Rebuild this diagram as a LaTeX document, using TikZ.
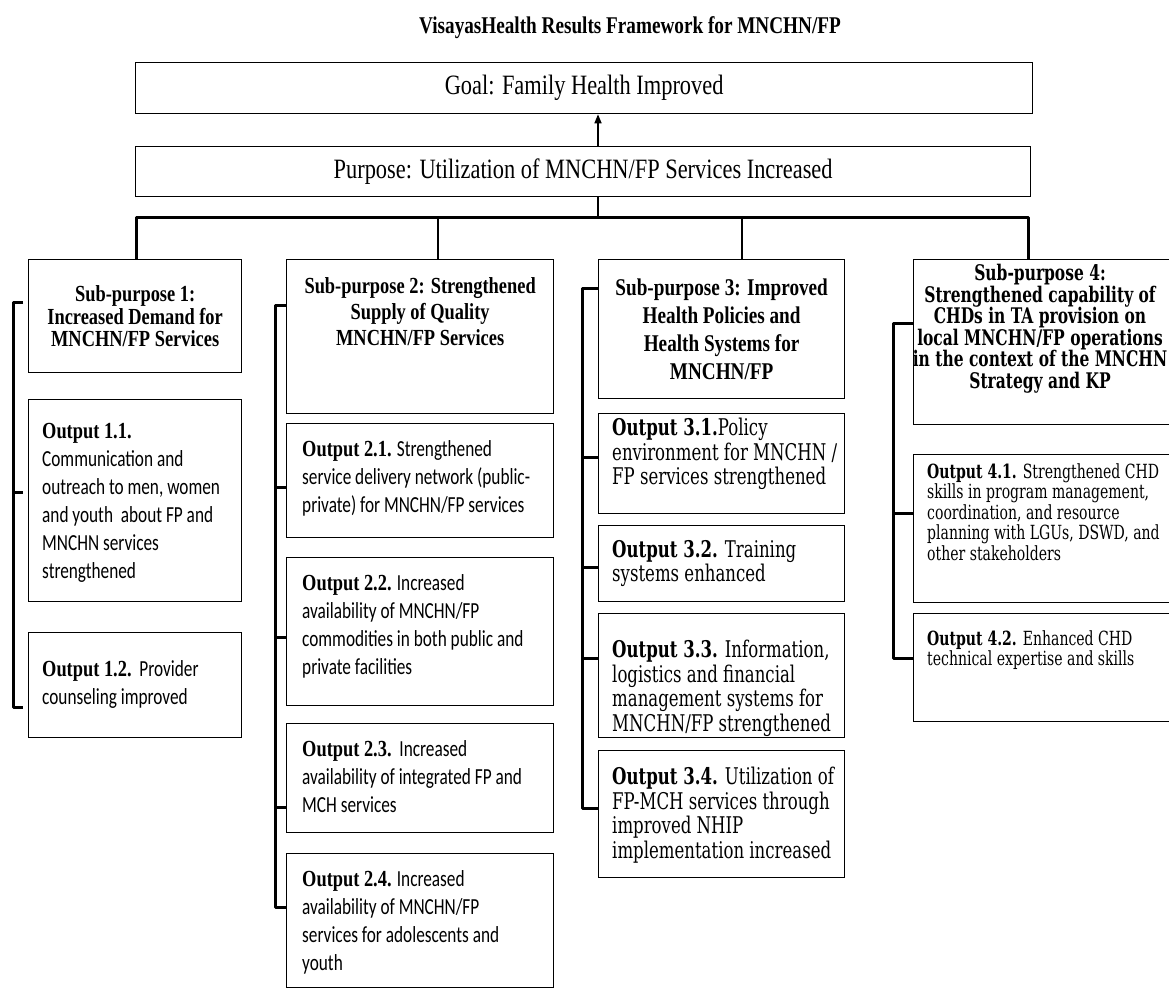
\documentclass[tikz,border=0pt]{standalone}
\usepackage{fontspec}
\setmainfont{Liberation Serif}
\newfontfamily\cnd[FakeStretch=0.8]{Liberation Serif}
\newfontfamily\csans[FakeStretch=0.75]{Carlito}
\newfontfamily\geo[FakeStretch=0.72]{DejaVu Serif}
\usetikzlibrary{arrows.meta,calc}
\tikzset{
  box/.style={draw, line width=1.3pt, inner sep=0pt, anchor=north west, align=center},
  txt/.style={inner sep=0pt, anchor=north west, align=left},
  ctxt/.style={inner sep=0pt, align=center},
  barline/.style={line width=3pt, line join=round},
  conn/.style={line width=2pt},
  brk/.style={line width=3pt, line join=round},
  ftitle/.style={font=\cnd\bfseries\fontsize{24}{24}\selectfont},
  fgoal/.style={font=\cnd\fontsize{28}{28}\selectfont},
  fsubA/.style={font=\cnd\bfseries\fontsize{23}{22.5}\selectfont},
  fsubB/.style={font=\cnd\bfseries\fontsize{23}{26}\selectfont},
  fsubC/.style={font=\cnd\bfseries\fontsize{24}{28}\selectfont},
  fsubD/.style={font=\geo\bfseries\fontsize{21.5}{21.5}\selectfont},
  fsans/.style={font=\csans\fontsize{23}{28}\selectfont},
  fgeoC/.style={font=\geo\fontsize{23}{24.5}\selectfont},
  fgeoD/.style={font=\geo\fontsize{19.5}{20.5}\selectfont},
}
\newcommand{\olab}[1]{{\cnd\bfseries #1}}
\newcommand{\glab}[1]{{\bfseries #1}}
\begin{document}
\begin{tikzpicture}[x=1pt,y=-1pt]
\useasboundingbox (0,0) rectangle (1169,990);
\fill[white] (0,0) rectangle (1169,990);

% title
\node[ftitle] (title) at (630,28) {VisayasHealth Results Framework for MNCHN/FP};

% goal and purpose
\node[box, fgoal, minimum width=897pt, minimum height=51pt] (goal) at (135,62) {Goal: Family Health Improved};
\node[box, fgoal, minimum width=895pt, minimum height=50pt] (purpose) at (135,146) {Purpose: Utilization of MNCHN/FP Services Increased};

% column 1
\node[box, fsubA, minimum width=213pt, minimum height=113pt] (sub1) at (28,259) {Sub-purpose 1:\\Increased Demand for\\MNCHN/FP Services};
\node[box, minimum width=213pt, minimum height=202pt] (o11) at (28,399) {};
\node[box, minimum width=213pt, minimum height=105pt] (o12) at (28,632) {};
\node[txt, fsans] (o11t) at ([shift={(14,24)}]o11.north west) {\olab{Output 1.1.}\\Communication and\\outreach to men, women\\and youth\ \ about FP and\\MNCHN services\\strengthened};
\node[txt, fsans] (o12t) at ([shift={(14,28)}]o12.north west) {\olab{Output 1.2.}\ \ Provider\\counseling improved};

% column 2
\node[box, minimum width=267pt, minimum height=154pt] (sub2) at (286,259) {};
\node[box, minimum width=267pt, minimum height=114pt] (o21) at (286,423) {};
\node[box, minimum width=267pt, minimum height=148pt] (o22) at (286,557) {};
\node[box, minimum width=267pt, minimum height=109pt] (o23) at (286,723) {};
\node[box, minimum width=267pt, minimum height=134pt] (o24) at (286,853) {};
\node[ctxt, fsubB, anchor=north] (sub2t) at ([shift={(0,18)}]sub2.north) {Sub-purpose 2: Strengthened\\Supply of Quality\\MNCHN/FP Services};
\node[txt, fsans] (o21t) at ([shift={(16,17)}]o21.north west) {\olab{Output 2.1.} Strengthened\\service delivery network (public-\\private) for MNCHN/FP services};
\node[txt, fsans] (o22t) at ([shift={(16,17)}]o22.north west) {\olab{Output 2.2.} Increased\\availability of MNCHN/FP\\commodities in both public and\\private facilities};
\node[txt, fsans] (o23t) at ([shift={(16,17)}]o23.north west) {\olab{Output 2.3.}\ \ Increased\\availability of integrated FP and\\MCH services};
\node[txt, fsans] (o24t) at ([shift={(16,17)}]o24.north west) {\olab{Output 2.4.} Increased\\availability of MNCHN/FP\\services for adolescents and\\youth};

% column 3
\node[box, fsubC, minimum width=246pt, minimum height=139pt] (sub3) at (598,259) {Sub-purpose 3: Improved\\Health Policies and\\Health Systems for\\MNCHN/FP};
\node[box, minimum width=246pt, minimum height=100pt] (o31) at (598,413) {};
\node[box, minimum width=246pt, minimum height=76pt] (o32) at (598,525) {};
\node[box, minimum width=246pt, minimum height=124pt] (o33) at (598,613) {};
\node[box, minimum width=246pt, minimum height=127pt] (o34) at (598,750) {};
\node[txt, fgeoC] (o31t) at ([shift={(14,5)}]o31.north west) {\glab{Output 3.1.}Policy\\environment for MNCHN /\\FP services strengthened};
\node[txt, fgeoC] (o32t) at ([shift={(14,15)}]o32.north west) {\glab{Output 3.2.} Training\\systems enhanced};
\node[txt, fgeoC] (o33t) at ([shift={(14,27)}]o33.north west) {\glab{Output 3.3.} Information,\\logistics and financial\\management systems for\\MNCHN/FP strengthened};
\node[txt, fgeoC] (o34t) at ([shift={(14,17)}]o34.north west) {\glab{Output 3.4.} Utilization of\\FP-MCH services through\\improved NHIP\\implementation increased};

% column 4
\node[box, minimum width=259pt, minimum height=165pt] (sub4) at (913,259) {};
\node[box, minimum width=259pt, minimum height=148pt] (o41) at (913,454) {};
\node[box, minimum width=259pt, minimum height=108pt] (o42) at (913,613) {};
\node[ctxt, fsubD, anchor=north] (sub4t) at (1040,264) {Sub-purpose 4:\\Strengthened capability of\\CHDs in TA provision on\\local MNCHN/FP operations\\in the context of the MNCHN\\Strategy and KP};
\node[txt, fgeoD] (o41t) at ([shift={(14,9)}]o41.north west) {\glab{Output 4.1.} Strengthened CHD\\skills in program management,\\coordination, and resource\\planning with LGUs, DSWD, and\\other stakeholders};
\node[txt, fgeoD] (o42t) at ([shift={(14,17)}]o42.north west) {\glab{Output 4.2.} Enhanced CHD\\technical expertise and skills};

% connectors top
\coordinate (ax) at (598,217);
\coordinate (b1) at (136,217);
\coordinate (b2) at (438,217);
\coordinate (b3) at (742,217);
\coordinate (b4) at (1028,217);
\draw[line width=1.5pt, -{Triangle[length=9pt,width=7pt]}] (purpose.north -| ax) -- (goal.south -| ax);
\draw[conn] (purpose.south -| ax) -- (ax);
\draw[barline] (sub1.north -| b1) -- (b1) -- (b4) -- (sub4.north -| b4);
\draw[conn] (b2) -- (sub2.north -| b2);
\draw[conn] (b3) -- (sub3.north -| b3);

% brackets column 1
\coordinate (k11) at (13,302);
\coordinate (k12) at (13,492);
\coordinate (k13) at (13,707);
\draw[brk] ([xshift=-5pt]k11 -| sub1.west) -- (k11) -- (k13) -- ([xshift=-5pt]k13 -| o12.west);
\draw[brk] (k12) -- ([xshift=-5pt]k12 -| o11.west);

% brackets column 2
\coordinate (k21) at (275,305);
\coordinate (k22) at (275,487);
\coordinate (k23) at (275,637);
\coordinate (k24) at (275,807);
\coordinate (k25) at (275,907);
\draw[brk] (k21 -| sub2.west) -- (k21) -- (k25) -- (k25 -| o24.west);
\draw[brk] (k22) -- (k22 -| o21.west);
\draw[brk] (k23) -- (k23 -| o22.west);
\draw[brk] (k24) -- (k24 -| o23.west);

% brackets column 3
\coordinate (k31) at (582,288);
\coordinate (k32) at (582,457);
\coordinate (k33) at (582,567);
\coordinate (k34) at (582,658);
\coordinate (k35) at (582,808);
\draw[brk] (k31 -| sub3.west) -- (k31) -- (k35) -- (k35 -| o34.west);
\draw[brk] (k32) -- (k32 -| o31.west);
\draw[brk] (k33) -- (k33 -| o32.west);
\draw[brk] (k34) -- (k34 -| o33.west);

% brackets column 4
\coordinate (k41) at (893,323);
\coordinate (k42) at (893,513);
\coordinate (k43) at (893,658);
\draw[brk] (k41 -| sub4.west) -- (k41) -- (k43) -- (k43 -| o42.west);
\draw[brk] (k42) -- (k42 -| o41.west);
\end{tikzpicture}
\end{document}
